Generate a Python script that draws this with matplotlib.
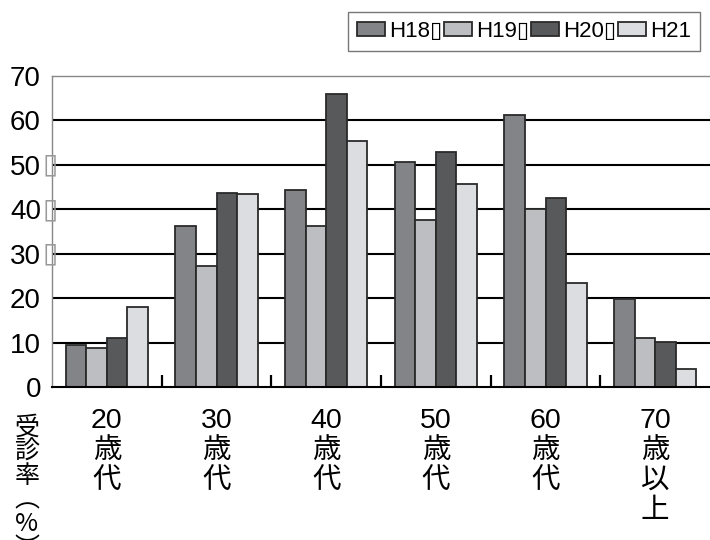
import matplotlib
matplotlib.use('Agg')
import matplotlib.pyplot as plt
import numpy as np
from matplotlib.transforms import offset_copy

plt.rcParams['font.family'] = ['Liberation Sans', 'DejaVu Sans', 'Noto Sans CJK JP']

# data
ages = ['20\n歳\n代', '30\n歳\n代', '40\n歳\n代', '50\n歳\n代', '60\n歳\n代', '70\n歳\n以\n上']
years = ['H18▯', 'H19▯', 'H20▯', 'H21']
h18 = [9.4, 36.2, 44.3, 50.7, 61.3, 19.7]
h19 = [8.7, 27.2, 36.2, 37.6, 40.1, 11.1]
h20 = [11.1, 43.7, 65.9, 53.0, 42.5, 10.2]
h21 = [17.9, 43.4, 55.4, 45.8, 23.3, 4.1]
yticks = [0, 10, 20, 30, 40, 50, 60, 70]
tofu_ticks = [30, 40, 50]

colors = ['#838488', '#bdbec2', '#58595b', '#dcdde0']
series = [h18, h19, h20, h21]

fig = plt.figure(figsize=(7.1, 5.4), dpi=100)
ax = fig.add_axes([52/710, 1-387/540, 658/710, 311/540])

x = np.arange(len(ages))
w = 0.1875
for i, vals in enumerate(series):
    ax.bar(x + (i-1.5)*w, vals, w, color=colors[i], edgecolor='#2a2a2a',
           linewidth=1.3, label=years[i], zorder=3)

ax.set_xlim(-0.5, len(ages)-0.5)
ax.set_ylim(0, 70)
ax.set_yticks(yticks)
ax.set_yticklabels([str(v) for v in yticks], fontsize=20)
ax.tick_params(axis='y', length=0, pad=8)
for v in yticks[1:-1]:
    ax.axhline(v, color='black', lw=1.5, zorder=1)

# the little empty boxes after 30/40/50
tofu_tr = offset_copy(ax.get_yaxis_transform(), fig=fig, x=-7, y=0, units='points')
for v in tofu_ticks:
    ax.text(0, v, '▯', transform=tofu_tr, ha='left', va='center', fontsize=20,
            color='#999999', family='DejaVu Sans', clip_on=False)

ax.set_xticks(x)
ax.set_xticklabels(ages, fontsize=20.5, va='top', linespacing=1.2)
ax.tick_params(axis='x', length=0, pad=15)
ax.set_xticks(x[:-1] + 0.5, minor=True)
ax.tick_params(axis='x', which='minor', direction='in', length=9, width=1.6, color='black')

for s in ['left', 'top']:
    ax.spines[s].set_color('#888888')
    ax.spines[s].set_linewidth(1)
ax.spines['right'].set_visible(False)
ax.spines['bottom'].set_color('black')
ax.spines['bottom'].set_linewidth(1.5)
ax.spines['bottom'].set_zorder(4)

fig.text(27/710, 1-415/540, '受\n診\n率\n︵\n%\n︶', ha='center', va='top',
         fontsize=18, linespacing=0.9, family=['Noto Sans CJK JP', 'DejaVu Sans'])

leg = ax.legend(loc='upper left', bbox_to_anchor=(348/710, 1-12/540),
                bbox_transform=fig.transFigure, ncol=4, fontsize=16,
                frameon=True, fancybox=False, borderaxespad=0, borderpad=0.4,
                handlelength=1.25, handleheight=0.65, handletextpad=0.22,
                columnspacing=0.05)
leg.get_frame().set_edgecolor('#555555')
leg.get_frame().set_linewidth(1)
for t in leg.get_texts():
    t.set_family(['Liberation Sans', 'DejaVu Sans'])

fig.savefig('out.png', dpi=100)
